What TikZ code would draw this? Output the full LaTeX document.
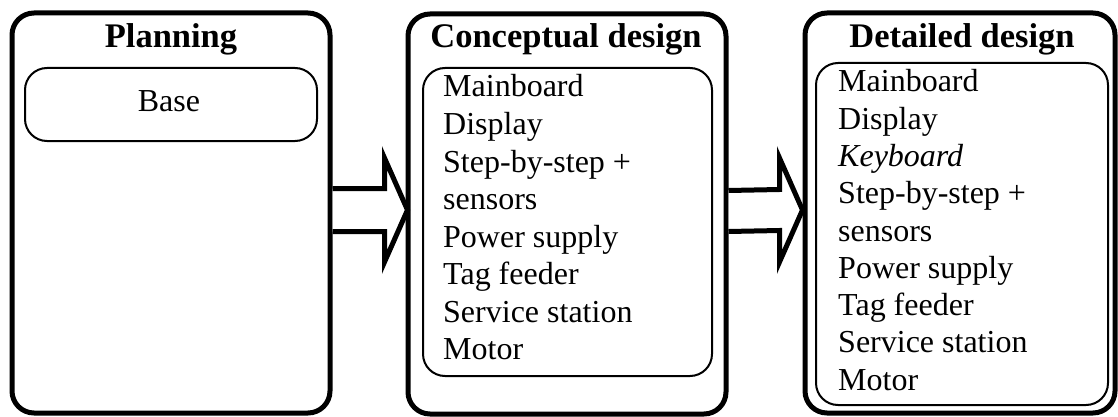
\documentclass[tikz,border=0pt]{standalone}
\usepackage{fontspec}
\setmainfont{Liberation Serif}
\usetikzlibrary{calc}
\begin{document}
\begin{tikzpicture}[x=1pt,y=-1pt,
  outerbox/.style={draw=black,line width=5pt,rounded corners=22pt,inner sep=0pt},
  innerbox/.style={draw=black,line width=2pt,rounded corners=22pt,inner sep=0pt},
  titletext/.style={font=\fontsize{34.5}{40}\selectfont\bfseries,anchor=base,inner sep=0pt},
  bodytext/.style={font=\fontsize{32}{37}\selectfont,anchor=base west,inner sep=0pt},
  arrowline/.style={draw=black,line width=5pt,line join=miter,fill=white}]
\useasboundingbox (0,0) rectangle (1118,417);
% outer boxes
\node[outerbox,minimum width=318pt,minimum height=400pt] (b1) at (171,213) {};
\node[outerbox,minimum width=318pt,minimum height=400pt] (b2) at (567,214) {};
\node[outerbox,minimum width=310pt,minimum height=400pt] (b3) at (960,213) {};
% inner boxes
\node[innerbox,minimum width=292pt,minimum height=73pt] (i1) at (171,104.5) {};
\node[innerbox,minimum width=289pt,minimum height=308pt] (i2) at (567.5,222) {};
\node[innerbox,minimum width=292pt,minimum height=342pt] (i3) at (962,234) {};
% titles
\node[titletext] (t1) at (171,48) {Planning};
\node[titletext] (t2) at (566,48) {Conceptual design};
\node[titletext] (t3) at (962,48) {Detailed design};
% base
\node[font=\fontsize{32}{37}\selectfont,anchor=base,inner sep=0pt] (base) at (169,112) {Base};
% conceptual list
\foreach \txt [count=\k from 0] in {Mainboard,Display,Step-by-step +,sensors,Power supply,Tag feeder,Service station,Motor}
  \node[bodytext] (c\k) at (443,97+37.57*\k) {\txt};
% detailed list
\foreach \txt [count=\k from 0] in {Mainboard,Display,\textit{Keyboard},Step-by-step +,sensors,Power supply,Tag feeder,Service station,Motor}
  \node[bodytext] (d\k) at (838,92+37.25*\k) {\txt};
% arrows
\coordinate (a1s) at ($(b1.east)+(0,-3)$);
\coordinate (a1t) at ($(b2.west)+(2,-4)$);
\draw[arrowline] ($(a1s)+(0,-21.5)$) -- ($(a1t)+(-23,-21.5)$) -- ($(a1t)+(-23,-52)$) -- (a1t)
  -- ($(a1t)+(-23,52)$) -- ($(a1t)+(-23,21.5)$) -- ($(a1s)+(0,21.5)$);
\coordinate (a2s) at ($(b2.east)+(0,-3)$);
\coordinate (a2t) at ($(b3.west)+(0,-3)$);
\draw[arrowline] ($(a2s)+(0,-20.5)$) -- ($(a2t)+(-23,-20.5)$) -- ($(a2t)+(-23,-52)$) -- (a2t)
  -- ($(a2t)+(-23,52)$) -- ($(a2t)+(-23,20.5)$) -- ($(a2s)+(0,20.5)$);
\end{tikzpicture}
\end{document}
